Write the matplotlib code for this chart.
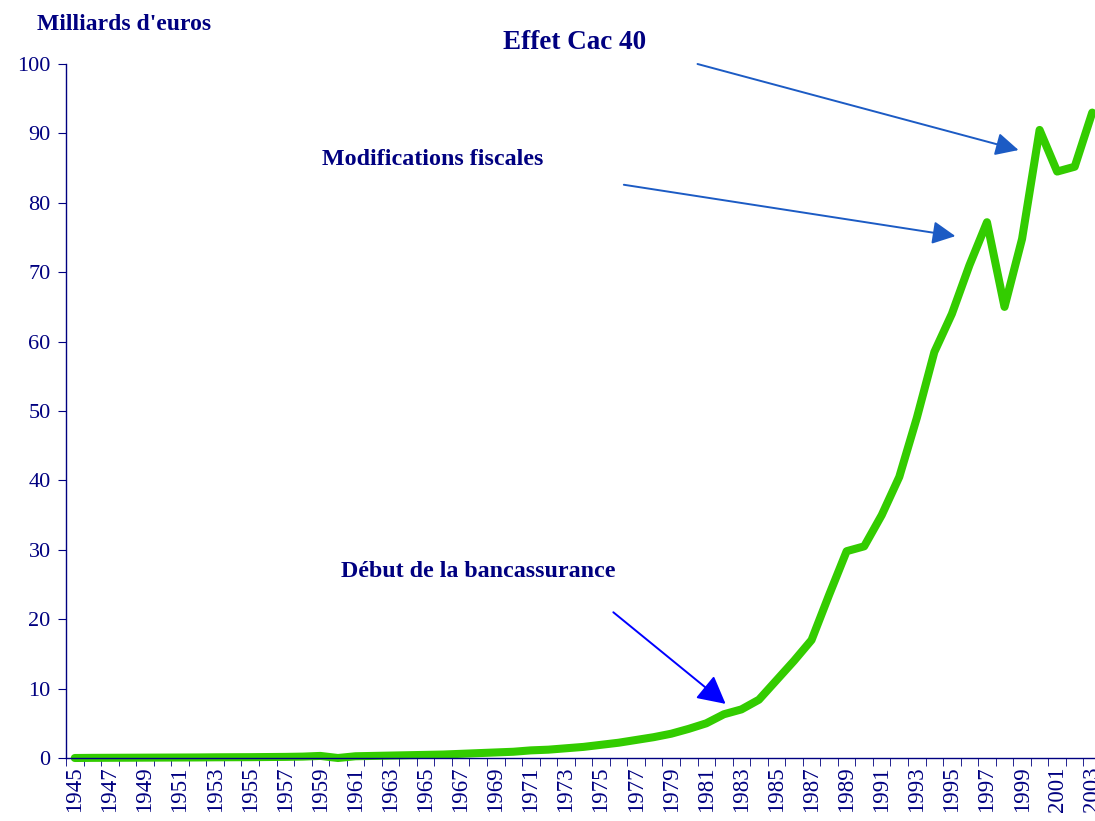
import matplotlib
matplotlib.use("Agg")
import matplotlib.pyplot as plt
import numpy as np

years = list(range(1945, 2004))
values = [0.0, 0.02, 0.03, 0.04, 0.05, 0.06, 0.07, 0.08, 0.1, 0.11, 0.12, 0.14, 0.16, 0.2, 0.3, 0.0,
          0.25, 0.3, 0.35, 0.4, 0.45, 0.5, 0.6, 0.7, 0.8, 0.9, 1.1, 1.2, 1.4, 1.6, 1.9, 2.2,
          2.6, 3.0, 3.5, 4.2, 5.0, 6.3, 7.0, 8.4, 11.2, 14.0, 17.0, 23.5, 29.8, 30.5, 35.0,
          40.5, 49.0, 58.5, 64.0, 71.0, 77.2, 65.0, 74.8, 90.5, 84.5, 85.2, 93.0]
yticks = list(range(0, 101, 10))
xlabels = [str(y) for y in years[::2]]

navy = "#000080"
fig = plt.figure(figsize=(10.95, 8.21), dpi=100)
ax = fig.add_axes([66/1095, 63/821, 1035/1095, 694/821])
ax.plot(years, values, color="#33CC00", lw=5.8, solid_capstyle="round", solid_joinstyle="round", clip_on=False)
ax.set_xlim(1944.5, 2003.5)
ax.set_ylim(0, 100)
for s in ["top", "right"]:
    ax.spines[s].set_visible(False)
for s in ["left", "bottom"]:
    ax.spines[s].set_color(navy)
    ax.spines[s].set_linewidth(1.0)
ax.set_yticks(yticks)
ax.set_yticklabels([str(v) for v in yticks], fontfamily="Liberation Serif", fontsize=16, color=navy)
ax.tick_params(axis="y", length=6, color=navy, pad=5)
ax.set_xticks(years[::2])
ax.set_xticklabels(xlabels, rotation=90, fontfamily="Liberation Serif", fontsize=16.5, color=navy)
ax.set_xticks(np.arange(1944.5, 2004, 1), minor=True)
ax.tick_params(axis="x", which="major", length=0, pad=6)
ax.tick_params(axis="x", which="minor", length=6, color=navy)

fig.text(37/1095, 1 - 24/821, "Milliards d'euros", fontfamily="Liberation Serif", fontweight="bold",
         fontsize=17, color=navy, ha="left", va="center")

tfont = dict(fontfamily="Liberation Serif", fontweight="bold", color=navy, ha="center", va="center")
ax.text(1973.5, 103.1, "Effet Cac 40", fontsize=19.5, clip_on=False, **tfont)
ax.text(1965.4, 86.2, "Modifications fiscales", fontsize=17.3, clip_on=False, **tfont)
ax.text(1968.0, 26.9, "Début de la bancassurance", fontsize=17.3, clip_on=False, **tfont)

ax.annotate("", xy=(1998.8, 87.6), xytext=(1980.5, 100.0), annotation_clip=False,
            arrowprops=dict(arrowstyle="-|>,head_length=1.4,head_width=0.7", color="#1C5BC4", lw=1.4,
                            shrinkA=0, shrinkB=0))
ax.annotate("", xy=(1995.2, 75.2), xytext=(1976.3, 82.6), annotation_clip=False,
            arrowprops=dict(arrowstyle="-|>,head_length=1.4,head_width=0.7", color="#1C5BC4", lw=1.4,
                            shrinkA=0, shrinkB=0))
ax.annotate("", xy=(1982.1, 7.8), xytext=(1975.7, 21.0), annotation_clip=False,
            arrowprops=dict(arrowstyle="-|>,head_length=1.7,head_width=0.9", color="#0000FF", lw=1.4,
                            shrinkA=0, shrinkB=0))

fig.savefig("out.png", dpi=100)
